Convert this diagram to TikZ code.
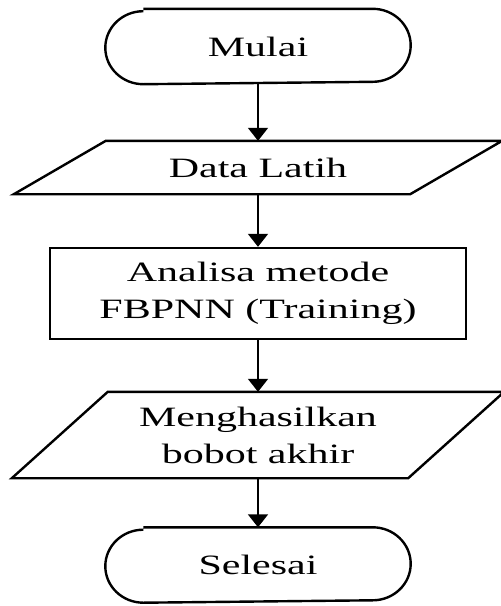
\documentclass[tikz,border=0pt]{standalone}
\usepackage{fontspec}
\setmainfont{Liberation Serif}[FakeStretch=1.5]
\usetikzlibrary{arrows.meta}
\begin{document}
\begin{tikzpicture}[x=1pt, y=-1pt, line width=2.4pt, line join=miter,
  box/.style={inner sep=0pt, align=center, font=\fontsize{28}{37}\selectfont},
  term/.style={box, minimum width=303pt, minimum height=73pt},
  io/.style={box, minimum width=394pt},
  proc/.style={box, draw, minimum width=416pt, minimum height=91pt},
  arr/.style={-{Triangle[width=20pt,length=13pt]}, line width=1.8pt}]
  \useasboundingbox (0,0) rectangle (501,606);
  \node[term] (mulai) at (258,46.5) {Mulai};
  \node[io, minimum height=51pt] (data) at (258,167.5) {Data Latih};
  \node[proc] (fbpnn) at (258,293.5) {Analisa metode\\FBPNN (Training)};
  \node[io, minimum height=84pt] (bobot) at (258,435) {Menghasilkan\\bobot akhir};
  \node[term] (selesai) at (258,565) {Selesai};
  % terminal outlines
  \foreach \n in {mulai,selesai}
    \draw ([xshift=38pt]\n.north west) -- ([xshift=-38pt]\n.north east)
      arc[start angle=90, end angle=-90, x radius=38pt, y radius=36.5pt]
      -- ([xshift=38pt]\n.south west)
      arc[start angle=270, end angle=90, x radius=38pt, y radius=36.5pt];
  % input/output
  \foreach \n/\s in {data/46,bobot/48}
    \draw ([xshift=-\s pt]\n.south west) -- ([xshift=-\s pt]\n.south east)
      -- ([xshift=\s pt]\n.north east) -- ([xshift=\s pt]\n.north west) -- cycle;
  \foreach \a/\b in {mulai/data,data/fbpnn,fbpnn/bobot,bobot/selesai}
    \draw[arr] (\a.south) -- (\b.north);
\end{tikzpicture}
\end{document}
